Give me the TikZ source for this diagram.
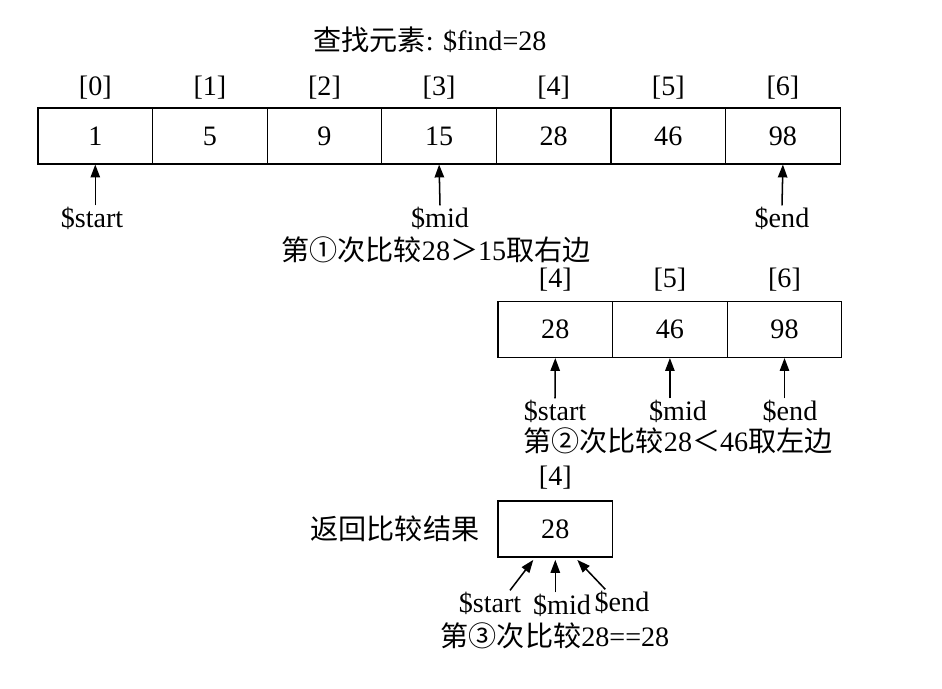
\documentclass[tikz,border=0pt]{standalone}
\usepackage{fontspec}
\setmainfont{Liberation Serif}
\newfontfamily\cjk{Noto Sans CJK SC}
\usetikzlibrary{positioning,arrows.meta}
\begin{document}
\begin{tikzpicture}[x=0.03cm,y=-0.03cm,
  font=\fontsize{24}{28}\selectfont,
  cell/.style={draw,line width=0.9pt,minimum width=114.6*0.03cm,minimum height=56*0.03cm,inner sep=0pt},
  idx/.style={inner sep=0pt},
  lbl/.style={inner sep=1pt},
  ptr/.style={-{Triangle[length=11pt,width=8pt]},line width=1.3pt}]
\useasboundingbox (0,0) rectangle (942,688);

\node at (430,40) {{\cjk 查找元素}: \$find=28};

% row 1
\foreach \v [count=\i from 0] in {1,5,9,15,28,46,98}{
  \node[cell] (a\i) at (95.3+114.6*\i,136) {\v};
  \node[idx] at (95.3+114.6*\i,88) {[\i]};}
\node[lbl] (s1) at (92,218) {\$start};
\node[lbl] (m1) at (440,218) {\$mid};
\node[lbl] (e1) at (782,218) {\$end};
\draw[ptr] (s1.north -| a0.south) -- (a0.south);
\draw[ptr] (m1.north) -- (a3.south);
\draw[ptr] (e1.north) -- (a6.south);
\node at (436,250) {{\cjk 第①次比较}28{\cjk ＞}15{\cjk 取右边}};

% row 2
\foreach \v [count=\i from 4] in {28,46,98}{
  \node[cell] (b\i) at (555.3+114.6*\i-458.4,329.5) {\v};
  \node[idx] at (555.3+114.6*\i-458.4,280) {[\i]};}
\node[lbl] (s2) at (555,411) {\$start};
\node[lbl] (m2) at (678,411) {\$mid};
\node[lbl] (e2) at (790,411) {\$end};
\draw[ptr] (s2.north) -- (b4.south);
\draw[ptr] (m2.north -| b5.south) -- (b5.south);
\draw[ptr] (e2.north -| b6.south) -- (b6.south);
\node at (678,441) {{\cjk 第②次比较}28{\cjk ＜}46{\cjk 取左边}};

% row 3
\node[cell] (c4) at (555.3,529) {28};
\node[idx] at (555.3,478) {[4]};
\node[left=12pt of c4] {\cjk 返回比较结果};
\node[lbl] (s3) at (490,603) {\$start};
\node[lbl] (m3) at (562,605) {\$mid};
\node[lbl] (e3) at (622,602) {\$end};
\draw[ptr] ([xshift=0.6cm]s3.north) -- ([xshift=-0.66cm,yshift=-2pt]c4.south);
\draw[ptr] (m3.north -| c4.south) -- ([yshift=-2pt]c4.south);
\draw[ptr] ([xshift=-0.5cm]e3.north) -- ([xshift=0.66cm,yshift=-2pt]c4.south);
\node at (555,636) {{\cjk 第③次比较}28==28};
\end{tikzpicture}
\end{document}
